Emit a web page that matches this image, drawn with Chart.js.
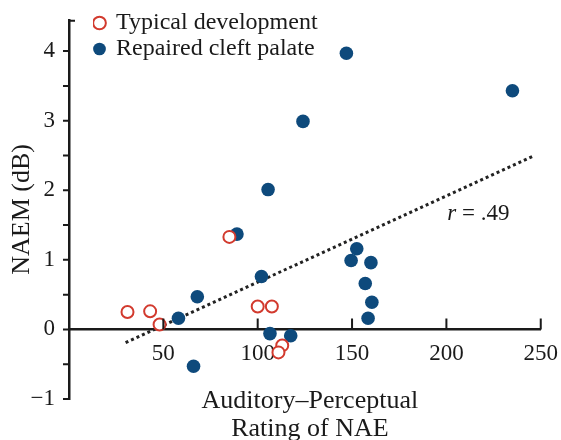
<!DOCTYPE html>
<html>
<head>
<meta charset="utf-8">
<script src="https://cdn.jsdelivr.net/npm/chart.js@4/dist/chart.umd.min.js"></script>
<style>
  html, body { margin: 0; background: #fff; }
</style>
</head>
<body>
<canvas id="chart" width="561" height="440"></canvas>
<script>
// values
let typicalX = [31, 43, 48, 85, 100, 107.5, 113, 111];
let typicalY = [0.25, 0.26, 0.07, 1.33, 0.33, 0.33, -0.23, -0.33];

let cleftX = [147, 235, 124, 105.5, 89, 152.5, 149.5, 160, 157, 160.5, 158.5, 102, 68, 58, 66, 106.5, 117.5];
let cleftY = [3.97, 3.43, 2.99, 2.01, 1.37, 1.16, 0.99, 0.96, 0.66, 0.39, 0.16, 0.76, 0.47, 0.16, -0.53, -0.06, -0.09];

let fitX = [30, 246];
let fitY = [-0.19, 2.49];

let xTicks = [0, 50, 100, 150, 200, 250];

const INK = "#1a1a1a";
const RED = "#d23a2e";
const NAVY = "#0e4a7c";
const SERIF = "'Liberation Serif', 'DejaVu Serif', serif";

function points(xs, ys) {
  let out = [];
  for (let i = 0; i < xs.length; i++) {
    out.push({ x: xs[i], y: ys[i] });
  }
  return out;
}

// ticks pointing up on the x axis, left on the y axis, plus the axis titles / r label
const axisDecor = {
  id: "axisDecor",
  afterLayout(chart) {
    chart.legend.left += 24;
    chart.legend.top += 9;
  },
  afterDraw(chart) {
    let ctx = chart.ctx;
    let xs = chart.scales.x;
    let ys = chart.scales.y;
    let y0 = ys.getPixelForValue(0);
    ctx.save();
    ctx.strokeStyle = INK;
    ctx.lineWidth = 2;
    ctx.beginPath();
    for (let i = 0; i < ys.ticks.length; i++) {
      let v = ys.ticks[i].value;
      if (v === ys.max) continue;
      let p = ys.getPixelForValue(v);
      ctx.moveTo(ys.right - 6, p);
      ctx.lineTo(ys.right, p);
    }
    ctx.moveTo(ys.right - 1, ys.top + 1);
    ctx.lineTo(ys.right + 6, ys.top + 1);
    for (let i = 0; i < xTicks.length; i++) {
      if (xTicks[i] === 0) continue;
      let p = xs.getPixelForValue(xTicks[i]);
      ctx.moveTo(p, y0);
      ctx.lineTo(p, y0 - 11);
    }
    ctx.stroke();

    ctx.fillStyle = INK;
    ctx.textAlign = "center";
    ctx.textBaseline = "middle";
    ctx.font = "26px " + SERIF;
    let cx = (chart.chartArea.left + chart.chartArea.right) / 2 + 5;
    ctx.fillText("Auditory\u2013Perceptual", cx, chart.chartArea.bottom + 2);
    ctx.fillText("Rating of NAE", cx, chart.chartArea.bottom + 30);

    // r = .49 label
    let rx = xs.getPixelForValue(200.5);
    let ry = ys.getPixelForValue(1.66);
    ctx.textAlign = "left";
    ctx.font = "italic 23px " + SERIF;
    ctx.fillText("r", rx, ry);
    let w = ctx.measureText("r").width;
    ctx.font = "23px " + SERIF;
    ctx.fillText(" = .49", rx + w, ry);
    ctx.restore();
  }
};

new Chart(document.getElementById("chart"), {
  type: "scatter",
  data: {
    datasets: [
      {
        label: "Typical development",
        data: points(typicalX, typicalY),
        pointStyle: "circle",
        pointRadius: 6,
        backgroundColor: "#ffffff",
        borderColor: RED,
        borderWidth: 2,
        order: 1
      },
      {
        label: "Repaired cleft palate",
        data: points(cleftX, cleftY),
        pointStyle: "circle",
        pointRadius: 6.8,
        backgroundColor: NAVY,
        borderColor: NAVY,
        borderWidth: 0,
        order: 2
      },
      {
        type: "line",
        label: "fit",
        data: points(fitX, fitY),
        borderColor: "#222",
        borderWidth: 3,
        borderDash: [3, 3],
        pointRadius: 0,
        fill: false,
        order: 3
      }
    ]
  },
  options: {
    responsive: false,
    animation: false,
    devicePixelRatio: 1,
    events: [],
    layout: { padding: { top: 17, right: 15, bottom: 41, left: 0 } },
    plugins: {
      tooltip: { enabled: false },
      legend: {
        position: "chartArea",
        align: "start",
        labels: {
          usePointStyle: true,
          boxWidth: 9,
          boxHeight: 9,
          padding: 2,
          color: INK,
          font: { family: SERIF, size: 24 },
          filter: function (item) { return item.datasetIndex < 2; }
        }
      }
    },
    scales: {
      x: {
        type: "linear",
        position: { y: 0 },
        min: 0,
        max: 250,
        afterFit: function (s) { s.height = 0; },
        grid: { display: false },
        border: { color: INK, width: 2.5 },
        ticks: {
          stepSize: 50,
          autoSkip: false,
          maxRotation: 0,
          padding: 3,
          color: INK,
          font: { family: SERIF, size: 23 },
          callback: function (v) { return v === 0 ? "" : v; }
        }
      },
      y: {
        min: -1,
        max: 4.45,
        afterFit: function (s) { s.width = 69; },
        grid: { display: false },
        border: { color: INK, width: 2.5 },
        ticks: {
          stepSize: 0.5,
          autoSkip: false,
          padding: 6,
          color: INK,
          font: { family: SERIF, size: 23 },
          callback: function (v) {
            if (!Number.isInteger(v)) return "";
            return v < 0 ? "\u2212" + (-v) : String(v);
          }
        },
        title: {
          display: true,
          text: "NAEM (dB)",
          color: INK,
          font: { family: SERIF, size: 26 },
          padding: { top: 7, bottom: 0 }
        }
      }
    }
  },
  plugins: [axisDecor]
});
</script>
</body>
</html>
